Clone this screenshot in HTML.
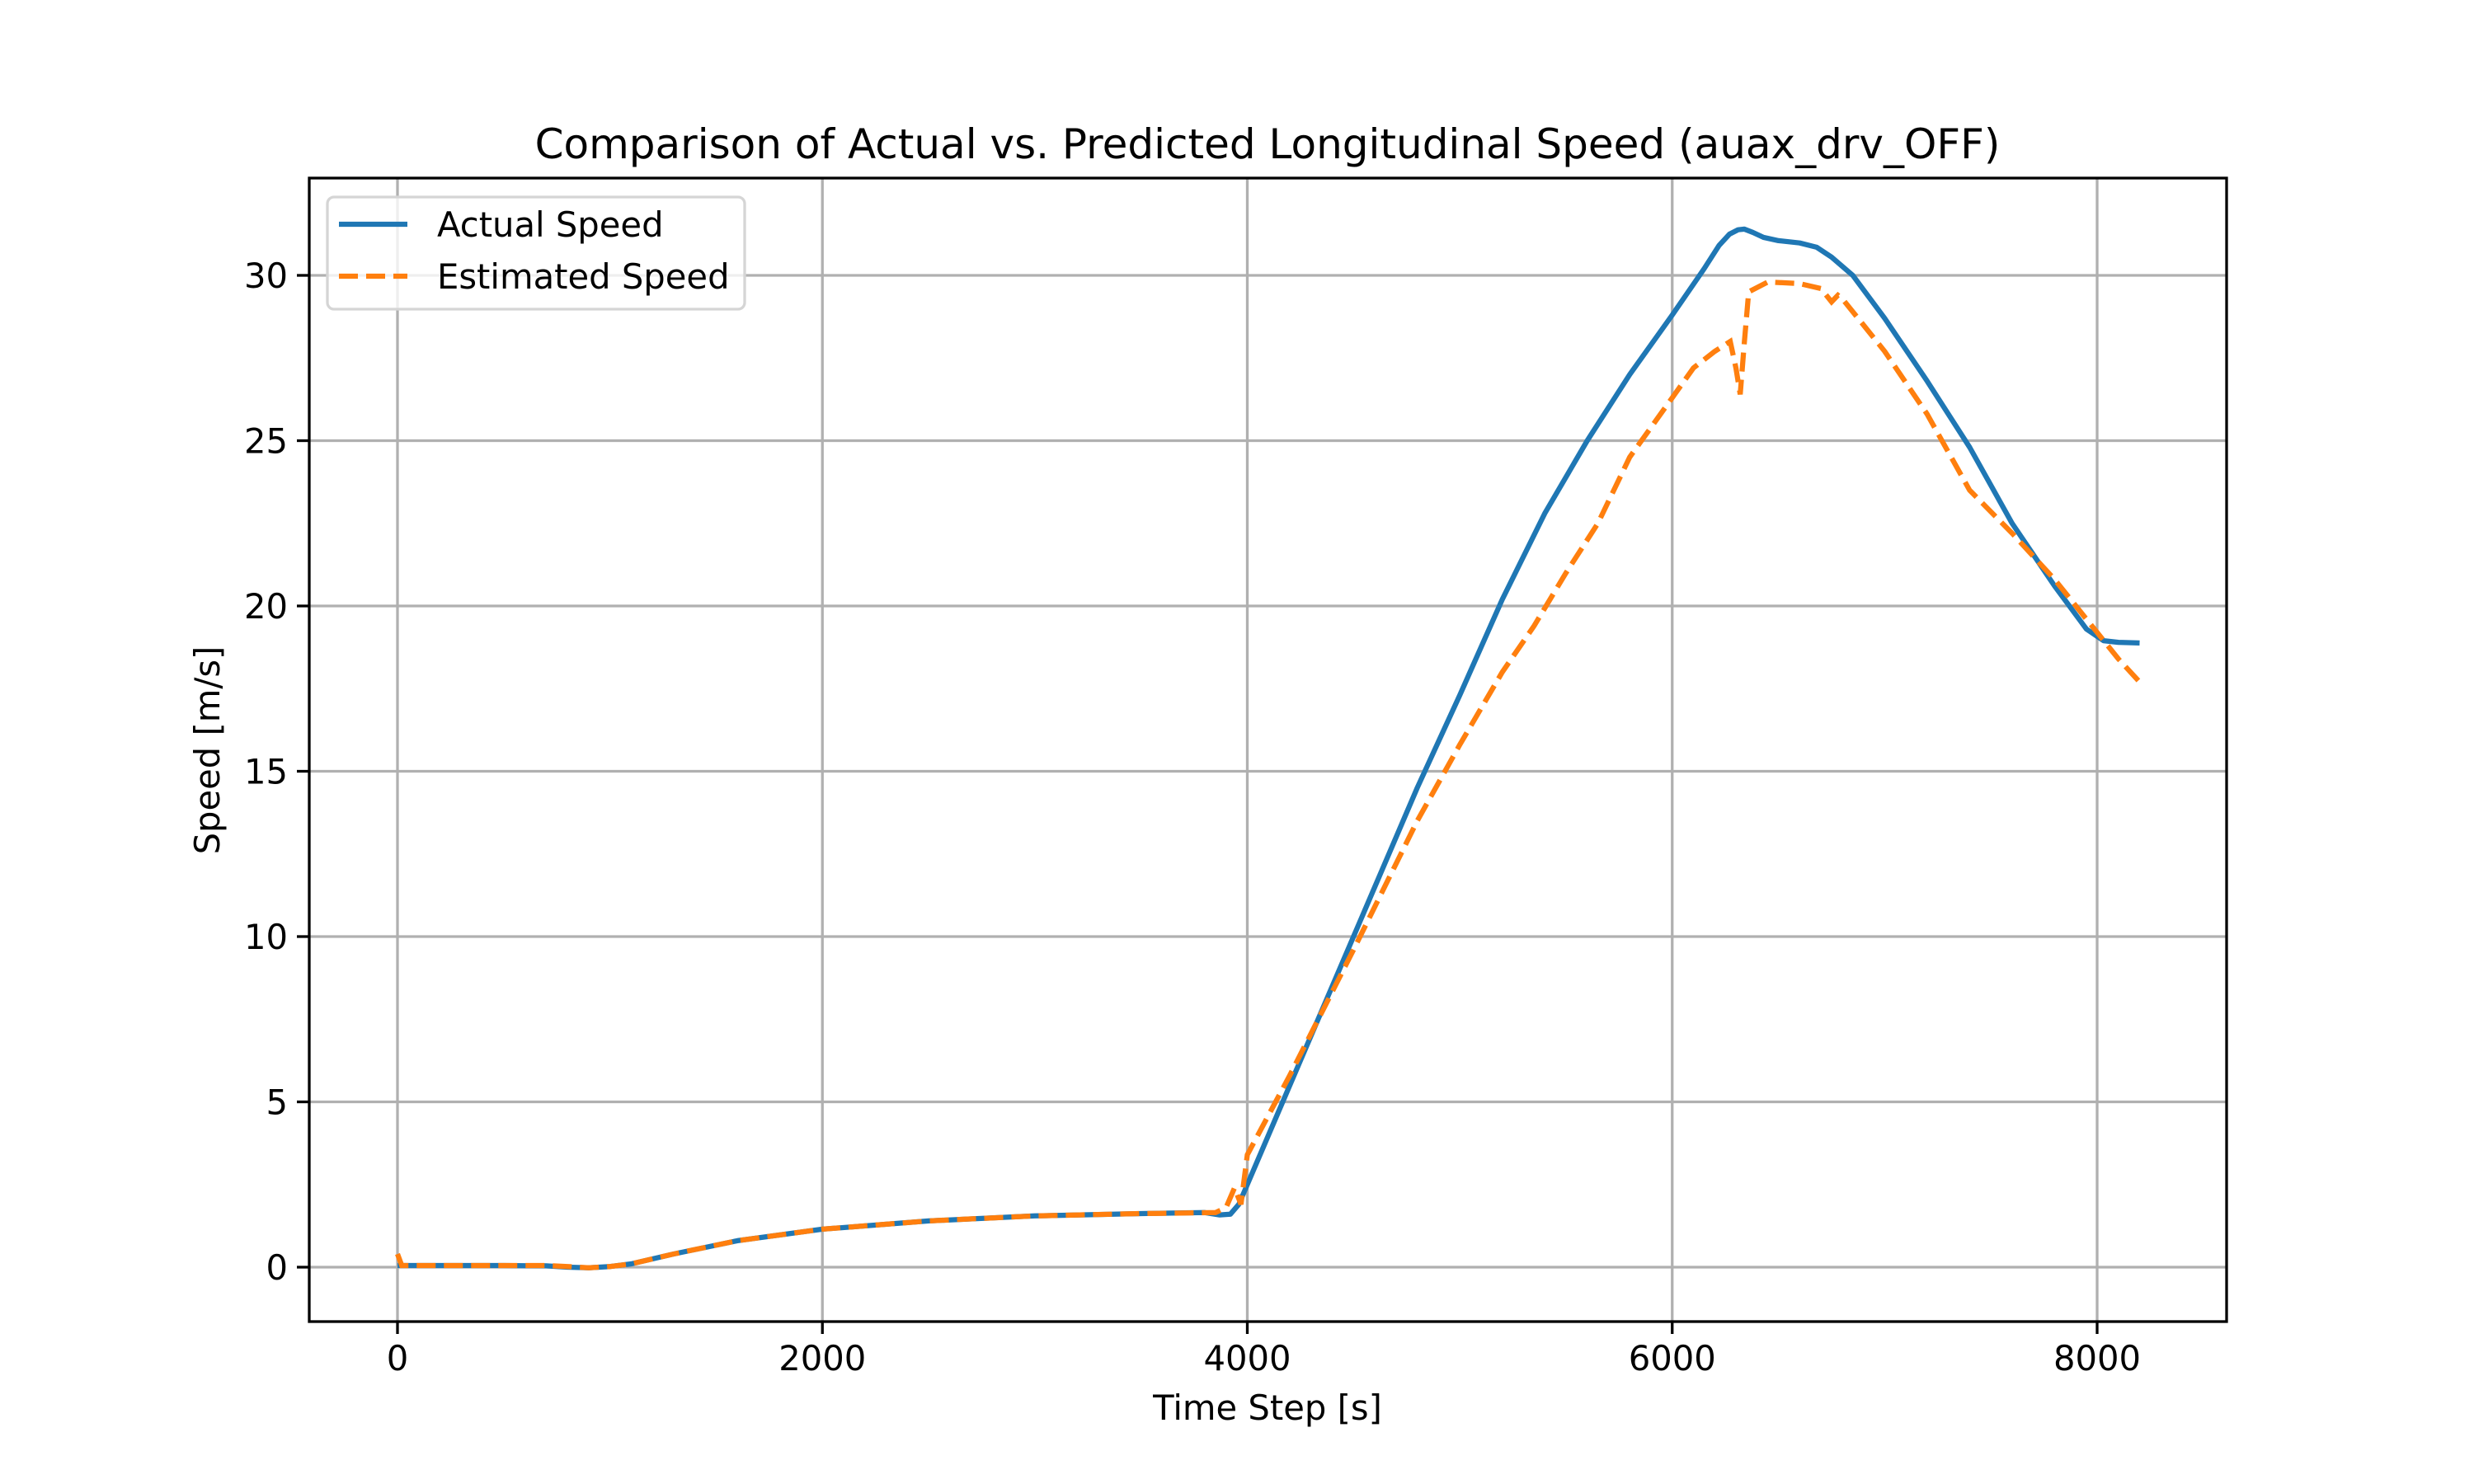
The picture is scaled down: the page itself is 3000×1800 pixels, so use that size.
<!DOCTYPE html>
<html><head><meta charset="utf-8"><style>
html,body{margin:0;padding:0;background:#fff}
svg{display:block;font-family:"DejaVu Sans","Liberation Sans",sans-serif}
</style></head><body>
<svg id="chart" width="3000" height="1800" viewBox="0 0 3000 1800" xmlns="http://www.w3.org/2000/svg">
<rect width="3000" height="1800" fill="#fff"/>
<g id="grid"></g>
<g id="series"></g>
<rect x="375" y="216" width="2325" height="1387" fill="none" stroke="#000" stroke-width="3.3"/>
<g id="ticks"></g>
<text x="1537" y="192" font-size="50" text-anchor="middle">Comparison of Actual vs. Predicted Longitudinal Speed (auax_drv_OFF)</text>
<text x="1537" y="1722" font-size="41.7" text-anchor="middle">Time Step [s]</text>
<text x="266" y="910" font-size="41.7" text-anchor="middle" transform="rotate(-90 266 910)">Speed [m/s]</text>
<g>
<rect x="397" y="239" width="506" height="136" rx="8" fill="#fff" fill-opacity="0.8" stroke="#d5d5d5" stroke-width="3.3"/>
<line x1="411" y1="272" x2="494" y2="272" stroke="#1f77b4" stroke-width="6.25"/>
<text x="530" y="287" font-size="41.7">Actual Speed</text>
<line x1="411" y1="335" x2="494" y2="335" stroke="#ff7f0e" stroke-width="6.25" stroke-dasharray="23,10"/>
<text x="530" y="350" font-size="41.7">Estimated Speed</text>
</g>
</svg>
<script>
const xTicks=[0,2000,4000,6000,8000];
const yTicks=[0,5,10,15,20,25,30];
const actualT=[0,300,500,700,800,900,1000,1100,1300,1600,2000,2500,3000,3500,3800,3870,3920,3960,4000,4200,4500,4800,5000,5200,5400,5600,5800,6000,6150,6220,6270,6310,6340,6380,6430,6500,6600,6680,6750,6850,7000,7200,7400,7600,7800,7950,8030,8100,8200];
const actualV=[0.05,0.05,0.05,0.04,0.0,-0.02,0.02,0.1,0.4,0.8,1.15,1.4,1.55,1.62,1.65,1.58,1.6,1.9,2.5,5.5,10,14.5,17.3,20.2,22.8,25.0,27.0,28.8,30.2,30.9,31.25,31.38,31.4,31.3,31.15,31.05,30.98,30.85,30.55,30.0,28.7,26.8,24.8,22.5,20.6,19.3,18.95,18.9,18.88];
const estT=[0,20,300,500,700,800,900,1000,1100,1300,1600,2000,2500,3000,3500,3850,3900,3940,3970,4000,4050,4200,4500,4800,5000,5200,5350,5500,5650,5800,6000,6100,6200,6273,6300,6320,6340,6360,6450,6600,6700,6750,6780,6800,7000,7200,7400,7600,7800,7900,8000,8100,8200];
const estV=[0.4,0.05,0.05,0.05,0.05,0.02,-0.02,0.02,0.1,0.4,0.8,1.15,1.4,1.55,1.62,1.65,1.8,2.4,1.9,3.4,4.0,5.8,9.6,13.5,15.8,18.0,19.4,21.0,22.5,24.5,26.3,27.2,27.7,28.0,27.2,26.4,28.0,29.5,29.8,29.75,29.6,29.2,29.4,29.3,27.7,25.8,23.5,22.2,20.8,20.0,19.2,18.4,17.7];
const X=v=>482+v*(2543-482)/8000;
const Y=v=>1537-v*(1537-334)/30;
const NS='http://www.w3.org/2000/svg';
const grid=document.getElementById('grid'),ticks=document.getElementById('ticks'),series=document.getElementById('series');
function mk(tag,attrs,parent){const e=document.createElementNS(NS,tag);for(const k in attrs)e.setAttribute(k,attrs[k]);parent.appendChild(e);return e;}
xTicks.forEach(t=>{
 const g=mk('line',{x1:X(t),x2:X(t),y1:216,y2:1603,stroke:'#b0b0b0','stroke-width':3.3},grid);
 
 
 const tk=mk('line',{x1:X(t),x2:X(t),y1:1603,y2:1618,stroke:'#000','stroke-width':3.3},ticks);
 
 
 const l=mk('text',{x:X(t),y:1662,'font-size':41.7,'text-anchor':'middle'},ticks);
 l.textContent=t;
 
 
});
yTicks.forEach(t=>{
 const g=mk('line',{x1:375,x2:2700,y1:Y(t),y2:Y(t),stroke:'#b0b0b0','stroke-width':3.3},grid);
 
 
 const tk=mk('line',{x1:360,x2:375,y1:Y(t),y2:Y(t),stroke:'#000','stroke-width':3.3},ticks);
 
 
 const l=mk('text',{x:349,y:Y(t)+15,'font-size':41.7,'text-anchor':'end'},ticks);
 l.textContent=t;
 
 
});
function pts(T,V){return T.map((t,i)=>X(t).toFixed(1)+','+Y(V[i]).toFixed(1)).join(' ');}
const a=mk('polyline',{points:pts(actualT,actualV),fill:'none',stroke:'#1f77b4','stroke-width':6.25,'stroke-linejoin':'round'},series);


const e=mk('polyline',{points:pts(estT,estV),fill:'none',stroke:'#ff7f0e','stroke-width':6.25,'stroke-dasharray':'23,10'},series);


</script>
</body></html>
